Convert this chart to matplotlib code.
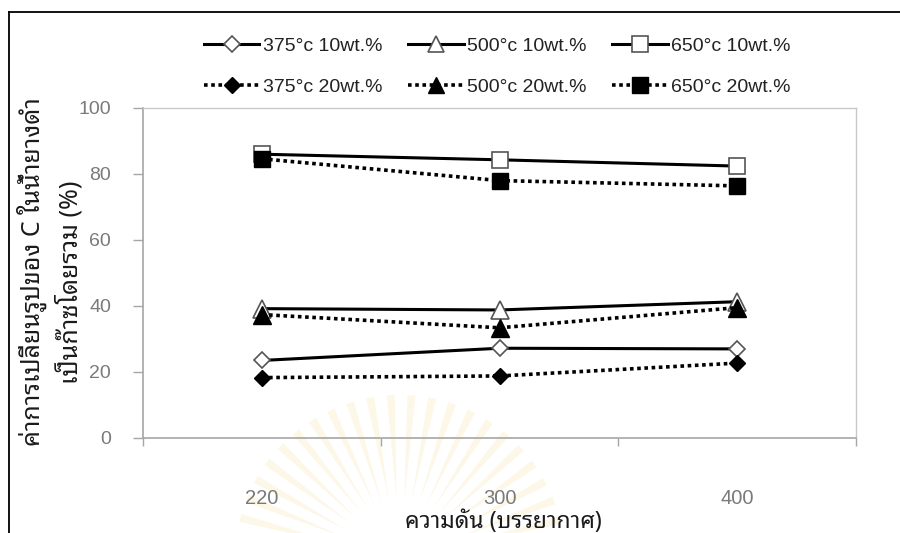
import numpy as np
import matplotlib
matplotlib.use("Agg")
import matplotlib.pyplot as plt
from matplotlib.lines import Line2D
from matplotlib.patches import Polygon

# ---- data -------------------------------------------------------------
pressures = ["220", "300", "400"]
temps = ["375", "500", "650"]
conv_10wt_375 = [23.5, 27.2, 27.0]
conv_10wt_500 = [39.2, 38.8, 41.3]
conv_10wt_650 = [86.0, 84.3, 82.4]
conv_20wt_375 = [18.3, 18.8, 22.7]
conv_20wt_500 = [37.4, 33.4, 39.5]
conv_20wt_650 = [84.6, 78.0, 76.4]
y_ticks = [0, 20, 40, 60, 80, 100]

xlabel = "ความดัน (บรรยากาศ)"
ylabel_1 = "ค่าการเปลี่ยนรูปของ C ในน้ำยางดำ"
ylabel_2 = "เป็นก๊าซโดยรวม (%)"

# ---- style ------------------------------------------------------------
W, H = 900, 533
LATIN = ["Liberation Sans", "DejaVu Sans"]
THAI = ["Noto Sans Thai Looped", "Liberation Sans", "DejaVu Sans"]
GREY_TXT = "#7a7a7a"
AXIS_C = "#a6a6a6"
FRAME_C = "#c8c8c8"

plt.rcParams["font.family"] = LATIN

fig = plt.figure(figsize=(W / 100, H / 100), dpi=100)


def fx(px):
    return px / W


def fy(py):
    return 1 - py / H


# faint sunburst emblem behind the lower part of the chart
cx, cy = 400, 560
for ang in np.arange(14, 167, 7.2):
    a0, a1 = np.radians(ang - 1.4), np.radians(ang + 1.4)
    am = np.radians(ang)
    r0, r1 = 62, 165
    pts = [(cx + r0 * np.cos(am), cy - r0 * np.sin(am)),
           (cx + r1 * np.cos(a0), cy - r1 * np.sin(a0)),
           (cx + r1 * np.cos(a1), cy - r1 * np.sin(a1))]
    fig.patches.append(Polygon([(fx(x), fy(y)) for x, y in pts],
                               closed=True, transform=fig.transFigure,
                               facecolor="#fdf7e8", edgecolor="none",
                               zorder=-5))

# outer chart frame (left and top edges visible)
fig.add_artist(Line2D([fx(9), fx(9)], [fy(12), fy(H + 5)],
                      transform=fig.transFigure, color="black", lw=1.3))
fig.add_artist(Line2D([fx(9), fx(W + 5)], [fy(12), fy(12)],
                      transform=fig.transFigure, color="black", lw=1.3))

ax = fig.add_axes([fx(143), fy(438), fx(856) - fx(143), fy(108) - fy(438)])
ax.set_facecolor("none")

x = np.arange(len(pressures))

solid = dict(color="black", lw=2.2, linestyle="-", zorder=3)
dotted = dict(color="black", lw=2.6, linestyle=(0, (1, 1)), zorder=4)
open_mk = dict(markerfacecolor="white", markeredgecolor="#555555",
               markeredgewidth=1.2)
fill_mk = dict(markerfacecolor="black", markeredgecolor="black",
               markeredgewidth=1.0)

series = [
    (conv_10wt_375, "D", 8.6, solid, open_mk, f"{temps[0]}°c 10wt.%"),
    (conv_20wt_375, "D", 8.6, dotted, fill_mk, f"{temps[0]}°c 20wt.%"),
    (conv_10wt_500, "^", 12.5, solid, open_mk, f"{temps[1]}°c 10wt.%"),
    (conv_20wt_500, "^", 12.5, dotted, fill_mk, f"{temps[1]}°c 20wt.%"),
    (conv_10wt_650, "s", 11.5, solid, open_mk, f"{temps[2]}°c 10wt.%"),
    (conv_20wt_650, "s", 11.5, dotted, fill_mk, f"{temps[2]}°c 20wt.%"),
]

handles = []
for vals, mk, ms, ls, mkst, lab in series:
    ax.plot(x, vals, marker=mk, markersize=ms, label=lab,
            clip_on=False, **ls, **mkst)
    handles.append(Line2D([], [], marker=mk, markersize=ms * 0.95,
                          **{k: v for k, v in ls.items() if k != "zorder"},
                          **mkst))

# axes limits / ticks
ax.set_xlim(-0.5, len(pressures) - 0.5)
ax.set_ylim(0, 100)
ax.set_yticks(y_ticks)
ax.set_yticklabels([str(v) for v in y_ticks])
ax.tick_params(axis="y", direction="out", length=7, width=1.0,
               color=AXIS_C, pad=16, labelsize=14, labelcolor=GREY_TXT)

ax.set_xticks(np.arange(-0.5, len(pressures)))
ax.set_xticklabels([])
ax.tick_params(axis="x", which="major", direction="out", length=6,
               width=1.0, color=AXIS_C)
ax.set_xticks(x, minor=True)
ax.set_xticklabels(pressures, minor=True)
ax.tick_params(axis="x", which="minor", length=0, pad=37,
               labelsize=14.5, labelcolor=GREY_TXT)

for side in ("left", "bottom"):
    ax.spines[side].set_color(AXIS_C)
    ax.spines[side].set_linewidth(1.2)
for side in ("top", "right"):
    ax.spines[side].set_color(FRAME_C)
    ax.spines[side].set_linewidth(1.0)

# axis titles
fig.text(fx(503), fy(522), xlabel, ha="center", va="center",
         fontsize=16.5, fontweight="bold", color="#1a1a1a", family=THAI)
fig.text(fx(32), fy(272), ylabel_1, ha="center", va="center",
         rotation=90, fontsize=18, fontweight="bold", color="#1a1a1a",
         family=THAI)
fig.text(fx(70), fy(282), ylabel_2, ha="center", va="center",
         rotation=90, fontsize=18, fontweight="bold", color="#1a1a1a",
         family=THAI)

# legend: two rows (10 wt.% solid, 20 wt.% dotted), three columns
leg = fig.legend(handles=handles, labels=[s[5] for s in series],
                 ncol=3, loc="upper left",
                 bbox_to_anchor=(fx(204), fy(37)),
                 frameon=False, fontsize=14, borderpad=0,
                 handlelength=2.85, handletextpad=0.2,
                 columnspacing=1.3, labelspacing=1.22,
                 borderaxespad=0)
for t in leg.get_texts():
    t.set_color("#222222")

fig.savefig("out.png", dpi=100)
